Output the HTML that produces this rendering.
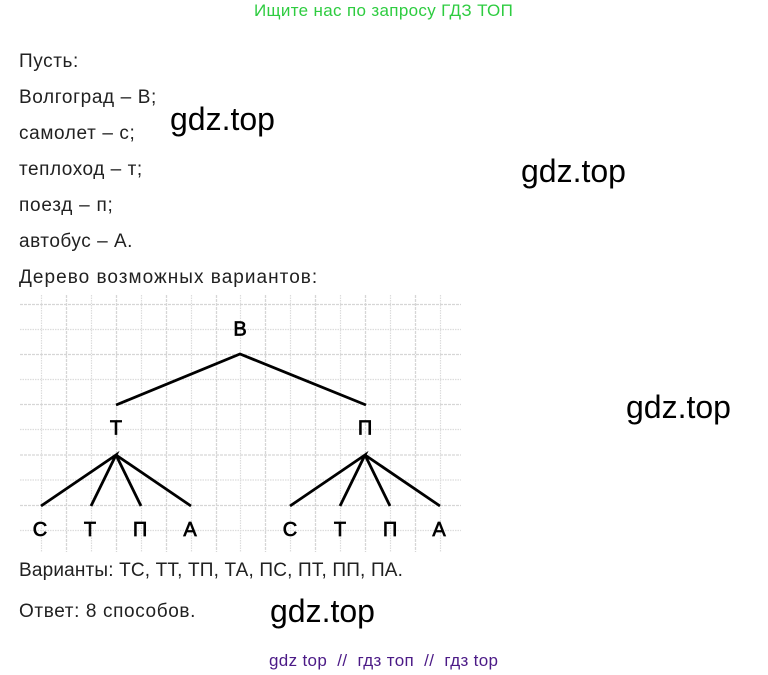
<!DOCTYPE html>
<html><head><meta charset="utf-8"><style>
html,body{margin:0;padding:0;background:#fff}
#p{position:relative;width:768px;height:675px;overflow:hidden;font-family:"Liberation Sans",sans-serif;color:#212121}
.t{position:absolute;left:19px;font-size:19px;line-height:20px;white-space:nowrap}
.w{position:absolute;font-size:32px;line-height:36px;color:#000;white-space:nowrap}
svg{position:absolute;left:0;top:0}
</style></head><body><div id="p">
<div class="t" style="left:254px;top:1px;font-size:17px;letter-spacing:.34px;color:#2ecc40">Ищите нас по запросу ГДЗ ТОП</div>
<div class="t" style="top:52px;letter-spacing:.6px">Пусть:</div>
<div class="t" style="top:88px;letter-spacing:.62px">Волгоград – В;</div>
<div class="t" style="top:124px;letter-spacing:.63px">самолет – с;</div>
<div class="t" style="top:160px;letter-spacing:.54px">теплоход – т;</div>
<div class="t" style="top:196px;letter-spacing:.75px">поезд – п;</div>
<div class="t" style="top:232px;letter-spacing:.53px">автобус – А.</div>
<div class="t" style="top:268px;letter-spacing:1.03px">Дерево возможных вариантов:</div>
<svg width="768" height="675">
<g fill="none">
<g stroke="#d6d6d6" stroke-width="1.3" stroke-dasharray="3 1"><path d="M20 304.5H461M20 354.5H461M20 404.5H461M20 455H461M20 505.5H461M66.5 295V552M116.5 295V552M166.5 295V552M216.5 295V552M265.5 295V552M315.5 295V552M365.5 295V552M415.5 295V552"/></g>
<g stroke="#dcdcdc" stroke-width="1.2" stroke-dasharray="1.5 1"><path d="M20 329.5H461M20 379.5H461M20 429.5H461M20 480H461M20 530.5H461M41.5 295V552M91.5 295V552M141.5 295V552M191.5 295V552M240.5 295V552M290.5 295V552M340.5 295V552M390.5 295V552M440.5 295V552"/></g>
</g>
<g stroke="#000" stroke-width="2.8" fill="none">
<path d="M116 405L240 354L366 405"/>
<path d="M41 506L116 455L91 506M116 455L141 506M116 455L191 506"/>
<path d="M290 506L365 455L340 506M365 455L390 506M365 455L440 506"/>
</g>
<g font-family="Liberation Sans" font-size="20" text-anchor="middle" fill="#000" stroke="#000" stroke-width=".7">
<text x="240" y="335.5">В</text><text x="116" y="434.5">Т</text><text x="365" y="434.5">П</text>
<text x="40" y="536">С</text><text x="90" y="536">Т</text><text x="140" y="536">П</text><text x="190" y="536">А</text>
<text x="290" y="536">С</text><text x="340" y="536">Т</text><text x="390" y="536">П</text><text x="439" y="536">А</text>
</g>
</svg>
<div class="t" style="top:561px;letter-spacing:.17px">Варианты: ТС, ТТ, ТП, ТА, ПС, ПТ, ПП, ПА.</div>
<div class="t" style="top:602px;letter-spacing:.62px">Ответ: 8 способов.</div>
<div class="w" style="left:170px;top:101px">gdz.top</div>
<div class="w" style="left:521px;top:153px">gdz.top</div>
<div class="w" style="left:626px;top:389px">gdz.top</div>
<div class="w" style="left:270px;top:593px">gdz.top</div>
<div class="t" style="left:269px;top:651px;font-size:17px;letter-spacing:.34px;color:#4b1a86;white-space:pre">gdz top  //  гдз топ  //  гдз top</div>
</div></body></html>
